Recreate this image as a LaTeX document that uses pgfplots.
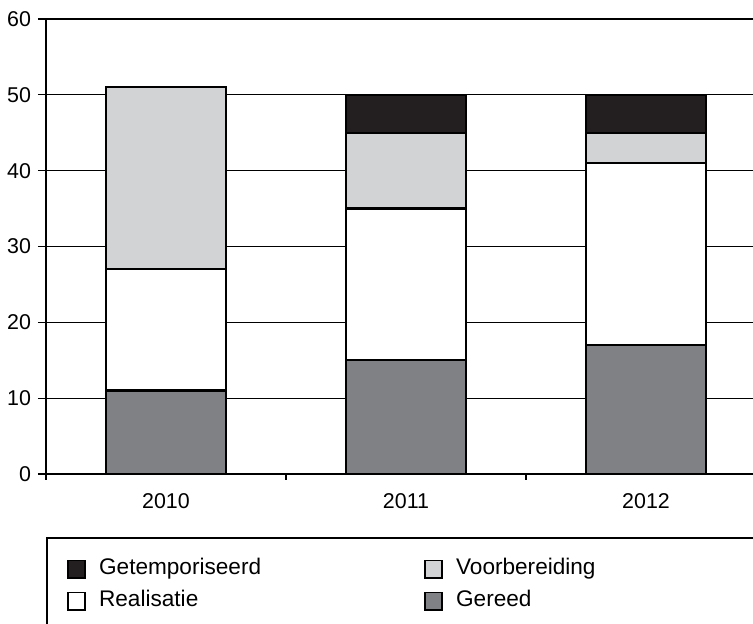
\documentclass[border=0pt]{standalone}
\usepackage{pgfplots}
\pgfplotsset{compat=1.18}
\usepackage{fontspec}
\setmainfont{Liberation Sans}
\definecolor{cGet}{HTML}{231F20}
\definecolor{cVoor}{HTML}{D1D3D4}
\definecolor{cGer}{HTML}{808185}
\pgfplotsset{
  mybar/.style={draw=black, line width=1.1pt},
  mylegimg/.style={legend image code/.code={\draw[##1, line width=0.9pt] (0pt,-4.3pt) rectangle (8.6pt,4.3pt);}},
}
\begin{document}
\begin{tikzpicture}
\clip (0,0) rectangle (376.5pt,312pt);
\begin{axis}[
  at={(23pt,75pt)}, anchor=south west,
  scale only axis, width=360pt, height=227.5pt,
  xmin=-0.5, xmax=2.5, ymin=0, ymax=60,
  ybar stacked, bar width=60pt,
  xtick={0,1,2}, xticklabels={2010,2011,2012},
  minor xtick={-0.5,0.5,1.5,2.5},
  ytick={0,10,...,60},
  xtick pos=left, ytick pos=left,
  ymajorgrids, major grid style={black, line width=0.5pt},
  axis line style={line width=1.1pt},
  tick align=outside,
  major tick length=4pt, minor tick length=3pt,
  major x tick style={draw=none},
  minor x tick style={black, line width=0.6pt},
  ytick style={black, line width=0.6pt},
  /pgf/number format/assume math mode=true,
  tick label style={font=\fontsize{10.7}{12}\selectfont},
  xticklabel style={yshift=-2pt},
  legend columns=2,
  legend cell align=left,
  legend style={at={(0,0)}, anchor=north west, yshift=-31.5pt,
    draw=black, line width=1.1pt, inner xsep=10pt, inner ysep=8.5pt,
    row sep=2pt,
    font=\fontsize{11.3}{13}\selectfont,
    nodes={inner sep=2pt, text height=7.5pt, text depth=2.5pt},
    /tikz/every odd column/.append style={column sep=4.5pt}},
]
\addplot[mybar, fill=cGer, forget plot] coordinates {(0,11) (1,15) (2,17)};
\addplot[mybar, fill=white, forget plot] coordinates {(0,16) (1,20) (2,24)};
\addplot[mybar, fill=cVoor, forget plot] coordinates {(0,24) (1,10) (2,4)};
\addplot[mybar, fill=cGet, forget plot] coordinates {(0,0) (1,5) (2,5)};
\addlegendimage{mylegimg, fill=cGet, draw=black}
\addlegendentry{\makebox[160.5pt][l]{Getemporiseerd}}
\addlegendimage{mylegimg, fill=cVoor, draw=black}
\addlegendentry{\makebox[170pt][l]{Voorbereiding}}
\addlegendimage{mylegimg, fill=white, draw=black}
\addlegendentry{\makebox[160.5pt][l]{Realisatie}}
\addlegendimage{mylegimg, fill=cGer, draw=black}
\addlegendentry{Gereed}
\addlegendimage{empty legend}
\addlegendentry{}
\end{axis}
\end{tikzpicture}
\end{document}
